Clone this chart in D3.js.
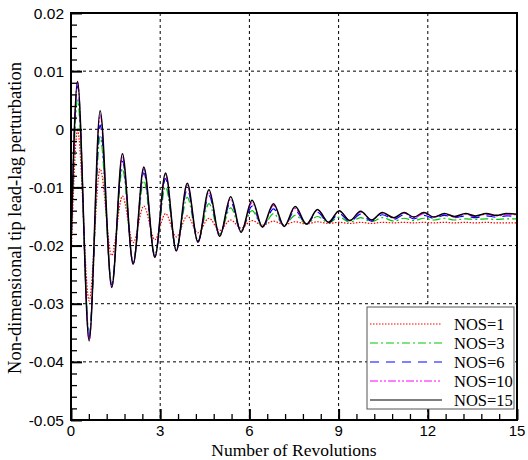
<!DOCTYPE html>
<html><head><meta charset="utf-8">
<script src="https://cdn.jsdelivr.net/npm/d3@7"></script>
<style>body{margin:0;background:#fff}svg{display:block}</style>
</head><body>
<svg id="c" width="528" height="460"></svg>
<script>
// Revolutions at which the curves reach their extrema
const revs = [0, 0.22, 0.61, 0.98, 1.37, 1.73, 2.09, 2.45, 2.82, 3.18, 3.54, 3.91, 4.27, 4.64, 5.0, 5.37, 5.72, 6.09, 6.44, 6.81, 7.17, 7.54, 7.92, 8.29, 8.66, 9.02, 9.38, 9.74, 10.11, 10.47, 10.86, 11.2, 11.53, 11.87, 12.2, 12.56, 12.9, 13.27, 13.6, 13.97, 14.3, 14.65, 15];
const nos1  = [-0.023, -0.0002, -0.0295, -0.0068, -0.0217, -0.0115, -0.0195, -0.0132, -0.019, -0.0145, -0.0185, -0.0149, -0.0178, -0.0153, -0.0174, -0.0156, -0.017, -0.0157, -0.0165, -0.0158, -0.0164, -0.0159, -0.0163, -0.0159, -0.0162, -0.016, -0.0162, -0.016, -0.0162, -0.016, -0.0161, -0.016, -0.0161, -0.016, -0.0161, -0.016, -0.0161, -0.016, -0.0161, -0.016, -0.0161, -0.0161, -0.0161];
const nos3  = [-0.021, 0.005, -0.0352, -0.0013, -0.0265, -0.0068, -0.0228, -0.0088, -0.0215, -0.0099, -0.0205, -0.0117, -0.019, -0.0128, -0.018, -0.0135, -0.0174, -0.014, -0.0168, -0.0145, -0.0165, -0.0148, -0.0163, -0.015, -0.0161, -0.0151, -0.016, -0.0152, -0.0159, -0.0152, -0.0158, -0.0153, -0.0157, -0.0153, -0.0156, -0.0153, -0.0156, -0.0154, -0.0155, -0.0154, -0.0155, -0.0154, -0.0154];
const nos6  = [-0.0205, 0.0075, -0.0358, 0.0007, -0.0268, -0.0055, -0.023, -0.0075, -0.0218, -0.0085, -0.0207, -0.0103, -0.0192, -0.0114, -0.0182, -0.0125, -0.0175, -0.0132, -0.0168, -0.0137, -0.0166, -0.014, -0.0163, -0.0143, -0.0161, -0.0145, -0.0159, -0.0146, -0.0158, -0.0147, -0.0155, -0.0147, -0.0154, -0.0148, -0.0153, -0.0148, -0.0152, -0.0149, -0.0152, -0.0149, -0.0151, -0.0149, -0.015];
const nos10 = [-0.0202, 0.0081, -0.0362, 0.0025, -0.0271, -0.0047, -0.0232, -0.0068, -0.022, -0.0078, -0.0209, -0.0097, -0.0194, -0.0108, -0.0184, -0.012, -0.0177, -0.0126, -0.0168, -0.0131, -0.0167, -0.0136, -0.0163, -0.0139, -0.016, -0.0141, -0.0157, -0.0142, -0.0156, -0.0144, -0.0153, -0.0144, -0.0152, -0.0145, -0.0151, -0.0146, -0.0151, -0.0146, -0.015, -0.0146, -0.0149, -0.0147, -0.0147];
const nos15 = [-0.020, 0.0082, -0.0364, 0.0032, -0.0272, -0.0042, -0.0232, -0.0065, -0.022, -0.0075, -0.0209, -0.0093, -0.0194, -0.0104, -0.0184, -0.0116, -0.0177, -0.0122, -0.0168, -0.0128, -0.0167, -0.0133, -0.0163, -0.0138, -0.016, -0.014, -0.0157, -0.0141, -0.0156, -0.0143, -0.0152, -0.0143, -0.0151, -0.0143, -0.0151, -0.0145, -0.015, -0.0145, -0.0149, -0.0145, -0.0148, -0.0145, -0.0146];
const seriesNames = ["NOS=1", "NOS=3", "NOS=6", "NOS=10", "NOS=15"];
const xTicks = [0, 3, 6, 9, 12, 15];
const yTicks = [0.02, 0.01, 0, -0.01, -0.02, -0.03, -0.04, -0.05];
const yTickLabels = ["0.02", "0.01", "0", "-0.01", "-0.02", "-0.03", "-0.04", "-0.05"];

const series = [nos1, nos3, nos6, nos10, nos15];
const colors = ["#ff0000", "#00c800", "#0000ff", "#ff00ff", "#000000"];
const dashes = ["1.5,1.5", "8,3,2,3", "9,7", "8,2,2,2,2,2", null];

const svg = d3.select("#c");
const L = 71, R = 517, T = 13, B = 420;
const x = d3.scaleLinear().domain([0, 15]).range([L, R]);
const y = d3.scaleLinear().domain([-0.05, 0.02]).range([B, T]);

// grid
const g = svg.append("g");
xTicks.slice(1, -1).forEach(v => g.append("line").attr("x1", x(v)).attr("x2", x(v)).attr("y1", T).attr("y2", B)
  .attr("stroke", "#000").attr("stroke-width", 1).attr("stroke-dasharray", "3,3"));
yTicks.slice(1, -1).forEach(v => g.append("line").attr("x1", L).attr("x2", R).attr("y1", y(v)).attr("y2", y(v))
  .attr("stroke", "#000").attr("stroke-width", 1).attr("stroke-dasharray", "3,3"));

// curves
svg.append("defs").append("clipPath").attr("id", "clip").append("rect")
  .attr("x", L).attr("y", T).attr("width", R - L).attr("height", B - T);
const line = d3.line().x((d, i) => x(revs[i])).y(d => y(d)).curve(d3.curveMonotoneX);
series.forEach((s, k) => {
  svg.append("path").attr("d", line(s)).attr("fill", "none").attr("clip-path", "url(#clip)")
    .attr("stroke", colors[k]).attr("stroke-width", k === 4 ? 1.5 : 1.2)
    .attr("stroke-dasharray", dashes[k]);
});

// axes with inward ticks
const xMajor = d3.axisTop(x).tickValues(xTicks).tickSize(11).tickFormat("");
const xMinor = d3.axisTop(x).tickValues(d3.range(0, 15.01, 0.6).filter(v => Math.abs(v / 3 - Math.round(v / 3)) > 1e-6)).tickSize(6).tickFormat("");
const yMajor = d3.axisRight(y).tickValues(yTicks).tickSize(11).tickFormat("");
const yMinor = d3.axisRight(y).tickValues(d3.range(-0.05, 0.0201, 0.002).filter(v => Math.abs(v / 0.01 - Math.round(v / 0.01)) > 1e-6)).tickSize(6).tickFormat("");
[xMajor, xMinor].forEach(a => {
  const ga = svg.append("g").attr("transform", `translate(0,${B})`).call(a);
  ga.select(".domain").remove();
  ga.selectAll("line").attr("stroke-width", a === xMajor ? 2 : 1.3);
});
[yMajor, yMinor].forEach(a => {
  const ga = svg.append("g").attr("transform", `translate(${L},0)`).call(a);
  ga.select(".domain").remove();
  ga.selectAll("line").attr("stroke-width", a === yMajor ? 2 : 1.3);
});
svg.append("rect").attr("x", L).attr("y", T).attr("width", R - L).attr("height", B - T)
  .attr("fill", "none").attr("stroke", "#000").attr("stroke-width", 2);

// tick labels
svg.append("g").selectAll("text").data(xTicks).join("text")
  .attr("x", d => x(d)).attr("y", 436).attr("text-anchor", "middle")
  .attr("font-family", "Liberation Sans, Arial, sans-serif").attr("font-size", 15).text(d => d);
svg.append("g").selectAll("text").data(yTicks).join("text")
  .attr("x", 64).attr("y", d => y(d) + 5.5).attr("text-anchor", "end")
  .attr("font-family", "Liberation Sans, Arial, sans-serif").attr("font-size", 15.5).text((d, i) => yTickLabels[i]);

// axis titles
svg.append("text").attr("x", 294).attr("y", 456).attr("text-anchor", "middle")
  .attr("font-family", "Liberation Serif, Times New Roman, serif").attr("font-size", 17.5).text("Number of Revolutions");
svg.append("text").attr("transform", "translate(21,218) rotate(-90)").attr("text-anchor", "middle")
  .attr("font-family", "Liberation Serif, Times New Roman, serif").attr("font-size", 18.5).text("Non-dimensional tip lead-lag perturbation");

// legend
const lg = svg.append("g");
lg.append("rect").attr("x", 367).attr("y", 307).attr("width", 147).attr("height", 102)
  .attr("fill", "#fff").attr("stroke", "#555").attr("stroke-width", 1);
seriesNames.forEach((n, k) => {
  const yy = 324 + k * 19;
  lg.append("line").attr("x1", 370).attr("x2", 442).attr("y1", yy).attr("y2", yy)
    .attr("stroke", colors[k]).attr("stroke-width", 1.2).attr("stroke-dasharray", dashes[k]);
  lg.append("text").attr("x", 454).attr("y", yy + 5.5).attr("font-family", "Liberation Serif, Times New Roman, serif")
    .attr("font-size", 16.5).text(n);
});
</script>
</body></html>
